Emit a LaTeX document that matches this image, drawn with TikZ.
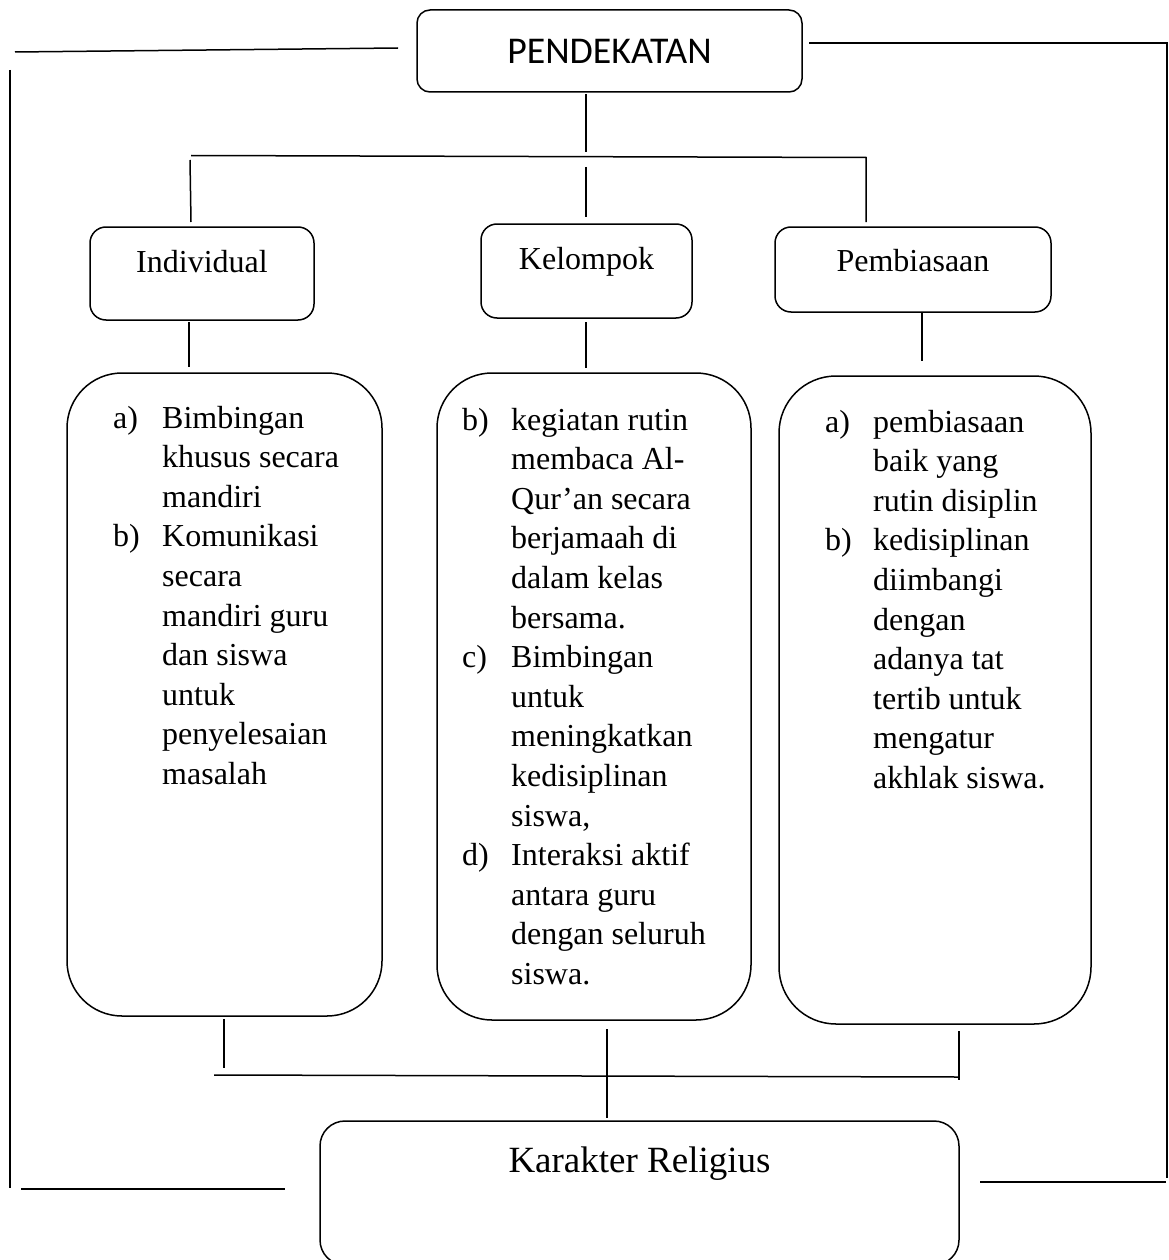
\documentclass[tikz,border=0pt]{standalone}
\usepackage{fontspec}
\setmainfont{Liberation Serif}
\newfontfamily\calib{Carlito}
\usepackage{array}
\begin{document}
\begin{tikzpicture}[x=1pt,y=-1pt,
  box/.style={draw, line width=1.5pt, inner sep=0pt},
  ln/.style={line width=1.5pt},
  lbl/.style={inner sep=0pt, anchor=base, font=\fontsize{32}{39.6}\selectfont},
  lst/.style={inner sep=0pt, anchor=base west, font=\fontsize{32}{39.6}\selectfont}]
\useasboundingbox (0,0) rectangle (1169,1260);
\clip (0,0) rectangle (1169,1260);

% boxes
\node[box, rounded corners=13pt, minimum width=385pt, minimum height=82pt] (pend) at (609.5,51) {\calib\fontsize{37.8}{42}\selectfont PENDEKATAN};
\node[box, rounded corners=16pt, minimum width=224pt, minimum height=93pt] (ind) at (202,273.5) {};
\node[box, rounded corners=16pt, minimum width=211pt, minimum height=94pt] (kel) at (586.5,271) {};
\node[box, rounded corners=16pt, minimum width=276pt, minimum height=85pt] (pem) at (913,269.5) {};
\node[box, rounded corners=55pt, minimum width=315pt, minimum height=643pt] (b1) at (224.5,694.5) {};
\node[box, rounded corners=55pt, minimum width=314pt, minimum height=647pt] (b2) at (594,696.5) {};
\node[box, rounded corners=57pt, minimum width=312pt, minimum height=648pt] (b3) at (935,700) {};
\node[box, rounded corners=25pt, minimum width=639pt, minimum height=144pt] (kar) at (639.5,1193) {};

% titles
\node[lbl] (tind) at (202,272) {Individual};
\node[lbl] (tkel) at (586.5,269) {Kelompok};
\node[lbl] (tpem) at (913,271) {Pembiasaan};
\node[inner sep=0pt, anchor=base, font=\fontsize{37}{44}\selectfont] (tkar) at (639.5,1172) {Karakter Religius};

% lists
\node[lst] (l1) at (113,428) {\begin{tabular}[t]{@{}p{49pt}@{}l@{}}
a) & Bimbingan\\
   & khusus secara\\
   & mandiri\\
b) & Komunikasi\\
   & secara\\
   & mandiri guru\\
   & dan siswa\\
   & untuk\\
   & penyelesaian\\
   & masalah
\end{tabular}};
\node[lst] (l2) at (462,430) {\begin{tabular}[t]{@{}p{49pt}@{}l@{}}
b) & kegiatan rutin\\
   & membaca Al-\\
   & Qur’an secara\\
   & berjamaah di\\
   & dalam kelas\\
   & bersama.\\
c) & Bimbingan\\
   & untuk\\
   & meningkatkan\\
   & kedisiplinan\\
   & siswa,\\
d) & Interaksi aktif\\
   & antara guru\\
   & dengan seluruh\\
   & siswa.
\end{tabular}};
\node[lst] (l3) at (825,432) {\begin{tabular}[t]{@{}p{48pt}@{}l@{}}
a) & pembiasaan\\
   & baik yang\\
   & rutin disiplin\\
b) & kedisiplinan\\
   & diimbangi\\
   & dengan\\
   & adanya tat\\
   & tertib untuk\\
   & mengatur\\
   & akhlak siswa.
\end{tabular}};

% coordinates
\coordinate (tl1) at (15,52);   \coordinate (tl2) at (398,48);
\coordinate (lv1) at (10,70);   \coordinate (lv2) at (10,1188);
\coordinate (bl1) at (21,1189); \coordinate (bl2) at (285,1189);
\coordinate (tr1) at (809,43);  \coordinate (tr2) at (1167,43); \coordinate (rv2) at (1167,1178);
\coordinate (br1) at (980,1182); \coordinate (br2) at (1166,1182);
\coordinate (p1) at (586,94);   \coordinate (p2) at (586,152);
\coordinate (h1) at (191,155.5); \coordinate (h2) at (866,157.5); \coordinate (d3b) at (866,222);
\coordinate (d1a) at (190,160); \coordinate (d1b) at (191,222);
\coordinate (d2a) at (586,167); \coordinate (d2b) at (586,217);
\coordinate (e1a) at (189,322); \coordinate (e1b) at (189,367);
\coordinate (e2a) at (586,322); \coordinate (e2b) at (586,368);
\coordinate (e3a) at (922,313); \coordinate (e3b) at (922,361);
\coordinate (f1a) at (224,1019); \coordinate (f1b) at (224,1068);
\coordinate (f2a) at (607,1029); \coordinate (f2b) at (607,1118);
\coordinate (g1) at (214,1075); \coordinate (g2) at (959,1077);
\coordinate (f3a) at (959,1031); \coordinate (f3b) at (959,1080);

% lines
\draw[ln] (tl1) -- (tl2);
\draw[ln] (lv1) -- (lv2);
\draw[ln] (bl1) -- (bl2);
\draw[ln] (tr1) -- (tr2) -- (rv2);
\draw[ln] (br1) -- (br2);
\draw[ln] (p1) -- (p2);
\draw[ln] (h1) -- (h2) -- (d3b);
\draw[ln] (d1a) -- (d1b);
\draw[ln] (d2a) -- (d2b);
\draw[ln] (e1a) -- (e1b);
\draw[ln] (e2a) -- (e2b);
\draw[ln] (e3a) -- (e3b);
\draw[ln] (f1a) -- (f1b);
\draw[ln] (f2a) -- (f2b);
\draw[ln] (g1) -- (g2);
\draw[ln] (f3a) -- (f3b);
\end{tikzpicture}
\end{document}
